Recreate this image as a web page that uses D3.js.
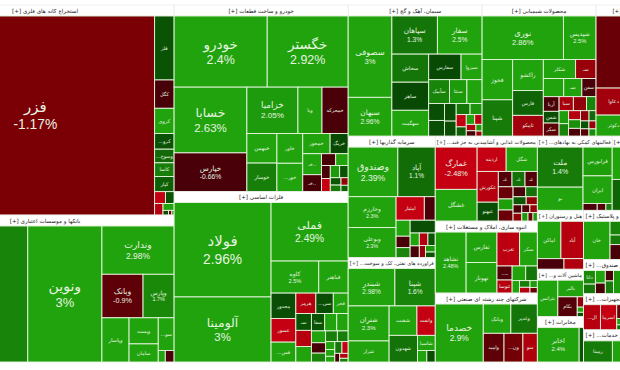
<!DOCTYPE html>
<html lang="fa">
<head>
<meta charset="utf-8">
<script src="https://cdn.jsdelivr.net/npm/d3@7"></script>
<style>
  html, body { margin: 0; padding: 0; background: #fff; overflow: hidden; }
  svg { display: block; font-family: "DejaVu Sans", sans-serif; }
</style>
</head>
<body>
<div id="viewport"></div>
<script>
// sector sizes, the chart runs past the window on the left and on the right
const sectorTitles = ["استخراج کانه های فلزی", "بانکها و موسسات اعتباری", "خودرو و ساخت قطعات", "فلزات اساسی", "سیمان، آهک و گچ", "محصولات شیمیایی", "مواد و محصولات دارویی", "سرمایه گذاریها", "...فراورده های نفتی، کک و سوخت", "...محصولات غذایی و آشامیدنی به جز قند", "انبوه سازی، املاک و مستغلات", "شرکتهای چند رشته ای صنعتی", "...فعالیتهای کمکی به نهادهای", "عرضه برق، گاز، بخار و آب گرم", "هتل و رستوران", "...ماشین آلات و", "مخابرات", "لاستیک و پلاستیک", "...بیمه و صندوق", "...ماشین آلات و تجهیزات", "...سایر خدمات"];
const sectorSizes = [54180, 37926, 32451, 29667, 17554, 14934, 13100, 10570, 9091, 8670, 7344, 7038, 5550, 6216, 2714, 2185, 2093, 5537, 3842, 4068, 3616];

const farzNames = ["فزر", "فلز", "کگل", "کروی", "...کرو", "...وسوخ", "کاسا", "کپار"];
const farzValues = [46450, 1220, 540, 480, 300, 260, 260, 290, 125, 100, 95, 75, 25, 15, 10];
const farzPct = [-1.17, 0.5, -0.6, 2.3, 0.5, 1, 1.5, 0.8, -2.2, 0.5, -2, 2.5, 0.4, -1, 1.5];

const bankNames = ["وتجارت", "ونوین", "وندارت", "وبانک", "وپارس", "وپاسار", "وپست", "سامان", "...سو"];
const bankValues = [14960, 9930, 3430, 1760, 1330, 1180, 750, 520, 510, 80, 100];
const bankPct = [1.6, 3, 2.98, -0.9, 1.7, 2.6, 2.4, 2.4, 2.4, 2.4, -0.7];

const autoNames = ["خودرو", "خگستر", "خسابا", "خپارس", "خزامیا", "ویا", "خمحرکه", "خبهمن", "خوسار", "خاور", "...خور", "خمحور", "خریگ", "خـ..", "خـ.."];
const autoValues = [6716, 5840, 4850, 2850, 2400, 1130, 1230, 900, 865, 780, 740, 560, 370, 400, 320, 170, 150, 115, 115, 115, 105, 80, 70, 55, 45];
const autoPct = [2.4, 2.92, 2.63, -0.66, 2.05, 2.5, -0.7, 2.5, 1.5, 2.5, 2.6, 2.3, 0.3, 2.3, -0.6, -0.7, 2.3, -0.7, -2.3, 2.0, 0.5, 0.6, 1.4, -1.5, 0.8];

const metalNames = ["فولاد", "آلومینا", "فملی", "کاوه", "فباهنر", "مجدور", "عسور", "...فس", "هرمز", "...سی", "فجر", "سـ", "", "", "سفا"];
const metalValues = [8740, 6020, 4310, 1460, 900, 600, 560, 470, 390, 340, 290, 250, 240, 230, 220, 200, 190, 160, 140, 120, 120, 110, 70, 60, 50, 80, 70, 40, 40, 30];
const metalPct = [2.96, 3, 2.49, 2.5, 2.4, 0.4, -2.2, 2.2, -2, 0.4, 2.3, 0.5, -2, 2.4, 0.5, 2.2, 2.2, 2.4, -0.6, 1.6, 1.5, 1.5, 2.4, 2.3, 2.3, 1.3, -2.2, -0.5, -2, 1.5];

const cementNames = ["سصوفی", "سبهان", "سپاهان", "سفار", "سخاش", "ساهر", "سهگمت", "سفارس", "سیزوا", "سآبیک", "سنتا"];
const cementValues = [3440, 1640, 1680, 1650, 1000, 1000, 920, 800, 520, 480, 400, 350, 260, 240, 200, 170, 150, 130, 120, 90, 80, 70, 60, 50, 40, 30];
const cementPct = [3, 2.96, 1.3, 2.5, 1.3, 0.3, 2.4, 0.3, 2.2, 1.6, 2, 2.4, 0.4, 0.4, 0.4, 0.4, 1.3, 1.9, -2.2, 0.8, 2.2, -2, -2, -0.5, 2, -1.6];

const chemNames = ["نوری", "شپدیس", "فخوز", "شپنا", "راکشو", "فارس", "تاپیکو", "شکلر", "سـ", "", "سـ", "سفن", "آریا", "شفن", "سکر", "سیا"];
const chemValues = [3440, 1380, 1200, 1080, 930, 740, 620, 600, 380, 360, 320, 250, 225, 180, 200, 195, 180, 130, 120, 115, 105, 100, 90, 85, 70, 65, 60, 55, 50];
const chemPct = [2.86, 2.5, 2.2, 1.4, 2.3, 0.9, -1.7, 2.2, -1.6, 2.2, 2.3, -0.7, -0.7, 0.4, -0.9, -1.8, -1.5, 1.6, 2.1, 1.6, -2, 1.8, -0.7, -1.5, 1, 0.5, -0.8, -1.6, 1.8];

const pharmaNames = ["دفارا", "دعاوا", "دکوثر"];
const pharmaValues = [7200, 945, 735, 2000, 1120];
const pharmaPct = [-1, -1.7, 2.2, 1.5, -1];

const investNames = ["وصندوق", "آپاد", "وخارزم", "وبوعلی", "امتیاز"];
const investValues = [2300, 1730, 1380, 1340, 620, 240, 210, 150, 130, 300, 110, 100, 100, 85, 70, 60, 50];
const investPct = [2.39, 1.1, 2.3, 2.3, -2.3, -0.7, 2.4, -0.7, 1.6, 0.4, 2.4, -0.7, -2, 0.5, -1.6, 2, 0.5];

const oilNames = ["شبندر", "شپنا", "شتران", "شراز", "شفنت", "وانفت", "شهدون", "شاسیا"];
const oilValues = [1620, 1400, 1330, 800, 760, 500, 700, 250, 100, 90];
const oilPct = [2.98, 1.6, 2.3, 2.3, 2.3, -2.3, 1.2, 2.3, 2.3, 0.4];

const foodNames = ["غمارگ", "غشگل", "ارذینه", "شگل", "غکورش", "غبهنو", "غـ", "غـ", "غـ"];
const foodValues = [1680, 1260, 670, 720, 620, 380, 200, 190, 180, 170, 155, 155, 120, 110, 100, 85, 70, 65, 60, 55, 50, 40, 35];
const foodPct = [-2.48, 2.3, -2.4, 2.3, -2, 0.4, -0.8, 1.2, -0.8, -1, 2.1, -1, -0.7, 1.2, 0.6, -1.5, -0.7, -1.5, -0.8, -1.6, 2, -1, 2];

const buildNames = ["ثشاهد", "ثفارس", "تهونار", "تغرب", "سکر", "...ـ", "ثنوسا"];
const buildValues = [1860, 930, 930, 760, 594, 210, 195, 196, 168, 90, 70, 60, 50, 40];
const buildPct = [2.48, 2.3, 2.3, -2.1, 2.3, -0.8, -2, 2.3, 1.3, 2.2, 1.5, -2, 2.1, -1];

const conglomNames = ["خصدما", "وبانک", "وغدیر", "وامید", "...ون", "سو"];
const conglomValues = [2620, 760, 730, 560, 510, 390];
const conglomPct = [2.9, 2.4, 1.3, -0.9, -1.1, -1.9];

const supportNames = ["ملت", "ـو", "فرابورس", "ایران"];
const supportValues = [1710, 990, 783, 754, 90, 55, 40];
const supportPct = [1.4, 2.4, 2.1, 2.2, -0.7, -0.8, 1.5];

const powerValues = [690, 660, 510, 3350];
const powerPct = [2.3, 0.9, 2.3, 1.6];

const hotelNames = ["اماکن", "آباد"];
const hotelValues = [815, 780, 260, 190];
const hotelPct = [2.4, -2, -0.7, -1.9];

const electricNames = ["بترانس", "بالبر", "بکام"];
const electricValues = [700, 400, 360, 60, 30, 25];
const electricPct = [2.4, 2.3, -0.8, -1.5, 2.3, 0.5];

const teleNames = ["اخابر", "همراه"];
const teleValues = [1360, 140];
const telePct = [2.4, 0.5];

const plasticNames = ["خان"];
const plasticValues = [990, 180, 126, 196, 2700];
const plasticPct = [2.4, 1.6, 1.4, -0.6, 2];

const insuranceNames = ["دانا"];
const insuranceValues = [170, 120, 130, 110, 90, 110, 2000];
const insurancePct = [1.7, 1.3, 2.3, -0.6, -0.7, 1.4, 2];

const machineNames = ["...ال", "اسرما"];
const machineValues = [364, 350, 110, 50, 40, 1500];
const machinePct = [-2, -2.2, -1, 2.3, 1.2, 2];

const serviceNames = ["رمینا"];
const serviceValues = [640, 400, 1450];
const servicePct = [1.4, 2.4, 2];

const sectorData = [
  [farzNames, farzValues, farzPct], [bankNames, bankValues, bankPct],
  [autoNames, autoValues, autoPct], [metalNames, metalValues, metalPct],
  [cementNames, cementValues, cementPct], [chemNames, chemValues, chemPct], [pharmaNames, pharmaValues, pharmaPct],
  [investNames, investValues, investPct], [oilNames, oilValues, oilPct],
  [foodNames, foodValues, foodPct], [buildNames, buildValues, buildPct], [conglomNames, conglomValues, conglomPct],
  [supportNames, supportValues, supportPct], [[], powerValues, powerPct],
  [hotelNames, hotelValues, hotelPct], [electricNames, electricValues, electricPct], [teleNames, teleValues, telePct],
  [plasticNames, plasticValues, plasticPct], [insuranceNames, insuranceValues, insurancePct],
  [machineNames, machineValues, machinePct], [serviceNames, serviceValues, servicePct]
];

// how the sectors stack: groups of sector indexes, odd depth runs top to bottom
const sectorNesting = [[0, 1], [2, 3], [[4, 5, 6], [[7, 8], [9, 10, 11], [[12, 13], [[14, 15, 16], [17, 18, 19, 20]]]]]];
// these run off the window, so their title starts at the left of the box
const leftTitles = [17, 18, 19, 20];

let width = 620;
let height = 370;
let chartLeft = -84, chartRight = 696, chartTop = 5, chartBottom = 362;
let titleHeight = 11;

let svg = d3.select('#viewport').append('svg').attr('width', width).attr('height', height);

let green = d3.scaleLinear().domain([0, 0.5, 1.5, 2.2]).range(['#063d03', '#0a5204', '#177f09', '#20a30d']).clamp(true);
let red = d3.scaleLinear().domain([0, 0.7, 1.2, 2.2]).range(['#3a0006', '#4a0008', '#7d0006', '#c40012']).clamp(true);
let getColor = (p) => p < 0 ? red(-p) : green(p);

let toNode = (n) => Array.isArray(n) ? { children: n.map(toNode) } : { index: n, size: sectorSizes[n] };

// root cut left to right, then every level turns
let sliceDice = (node, x0, y0, x1, y1) => {
  (node.depth % 2 ? d3.treemapSlice : d3.treemapDice)(node, x0, y0, x1, y1);
};

let outer = d3.treemap()
  .size([chartRight - chartLeft, chartBottom - chartTop])
  .tile(sliceDice)
  .round(false);

let sectors = outer(d3.hierarchy(toNode(sectorNesting)).sum(d => d.size || 0)).leaves();

let plot = svg.append('g').attr('transform', 'translate(' + chartLeft + ',' + chartTop + ')');

sectors.forEach(s => {
  let idx = s.data.index;
  let [names, values, pct] = sectorData[idx];
  let w = s.x1 - s.x0, h = s.y1 - s.y0;

  let g = plot.append('g').attr('transform', 'translate(' + s.x0 + ',' + s.y0 + ')');

  g.append('rect').attr('width', w).attr('height', titleHeight).attr('fill', '#fff')
    .attr('stroke', '#ddd').attr('stroke-width', 0.5);

  let isLeft = leftTitles.includes(idx);
  let title = g.append('text')
    .attr('x', isLeft ? 2 : w / 2).attr('y', titleHeight / 2 + 2)
    .attr('text-anchor', isLeft ? 'start' : 'middle')
    .attr('font-size', 5.6)
    .attr('fill', '#222')
    .text('[+] ' + sectorTitles[idx]);
  let titleLen = title.node().getComputedTextLength();
  if (!isLeft && titleLen > w - 3) title.attr('font-size', 5.6 * (w - 3) / titleLen);

  // no sorting, the arrays are already in the order of the picture
  let root = d3.hierarchy({ children: values.map((v, i) => ({ name: names[i], value: v, pct: pct[i] })) })
    .sum(d => d.value || 0);

  d3.treemap().size([w, h - titleHeight]).tile(d3.treemapSquarify.ratio(1))(root);

  let cell = g.append('g').attr('transform', 'translate(0,' + titleHeight + ')')
    .selectAll('g').data(root.leaves()).enter().append('g')
      .attr('transform', d => 'translate(' + d.x0 + ',' + d.y0 + ')');

  cell.append('rect')
    .attr('width', d => d.x1 - d.x0)
    .attr('height', d => d.y1 - d.y0)
    .attr('fill', d => getColor(d.data.pct))
    .attr('stroke', '#e8f5e0').attr('stroke-width', 0.9);

  cell.each(function(d) {
    let cw = d.x1 - d.x0, ch = d.y1 - d.y0;
    if (!d.data.name || cw < 9 || ch < 7) return;

    // labels that would sit across the window edge are not shown, as in the picture
    let absX = chartLeft + s.x0 + d.x0;
    let fs = Math.max(5, Math.min(15, Math.min(cw, ch) * 0.19));
    let lines = [d.data.name];
    if (cw * ch >= 1350) lines.push(d.data.pct + '%');

    let label = d3.select(this).selectAll('text').data(lines).enter().append('text')
      .attr('x', cw / 2)
      .attr('y', (t, i) => ch / 2 + (i - (lines.length - 1) / 2) * fs * 1.15 + fs * 0.35)
      .attr('text-anchor', 'middle')
      .attr('font-size', (t, i) => i ? fs * 0.92 : fs)
      .attr('font-family', (t, i) => i ? '"Liberation Sans", sans-serif' : null)
      .attr('fill', '#e6f4e0')
      .text(t => t);

    let tooWide = false;
    label.each(function() {
      let len = this.getComputedTextLength();
      if (absX + cw / 2 - len / 2 < 0 || absX + cw / 2 + len / 2 > width) tooWide = true;
      if (len > cw - 2) {
        d3.select(this).attr('font-size', +d3.select(this).attr('font-size') * (cw - 2) / len);
      }
    });
    if (tooWide) label.remove();
  });
});
</script>
</body>
</html>
